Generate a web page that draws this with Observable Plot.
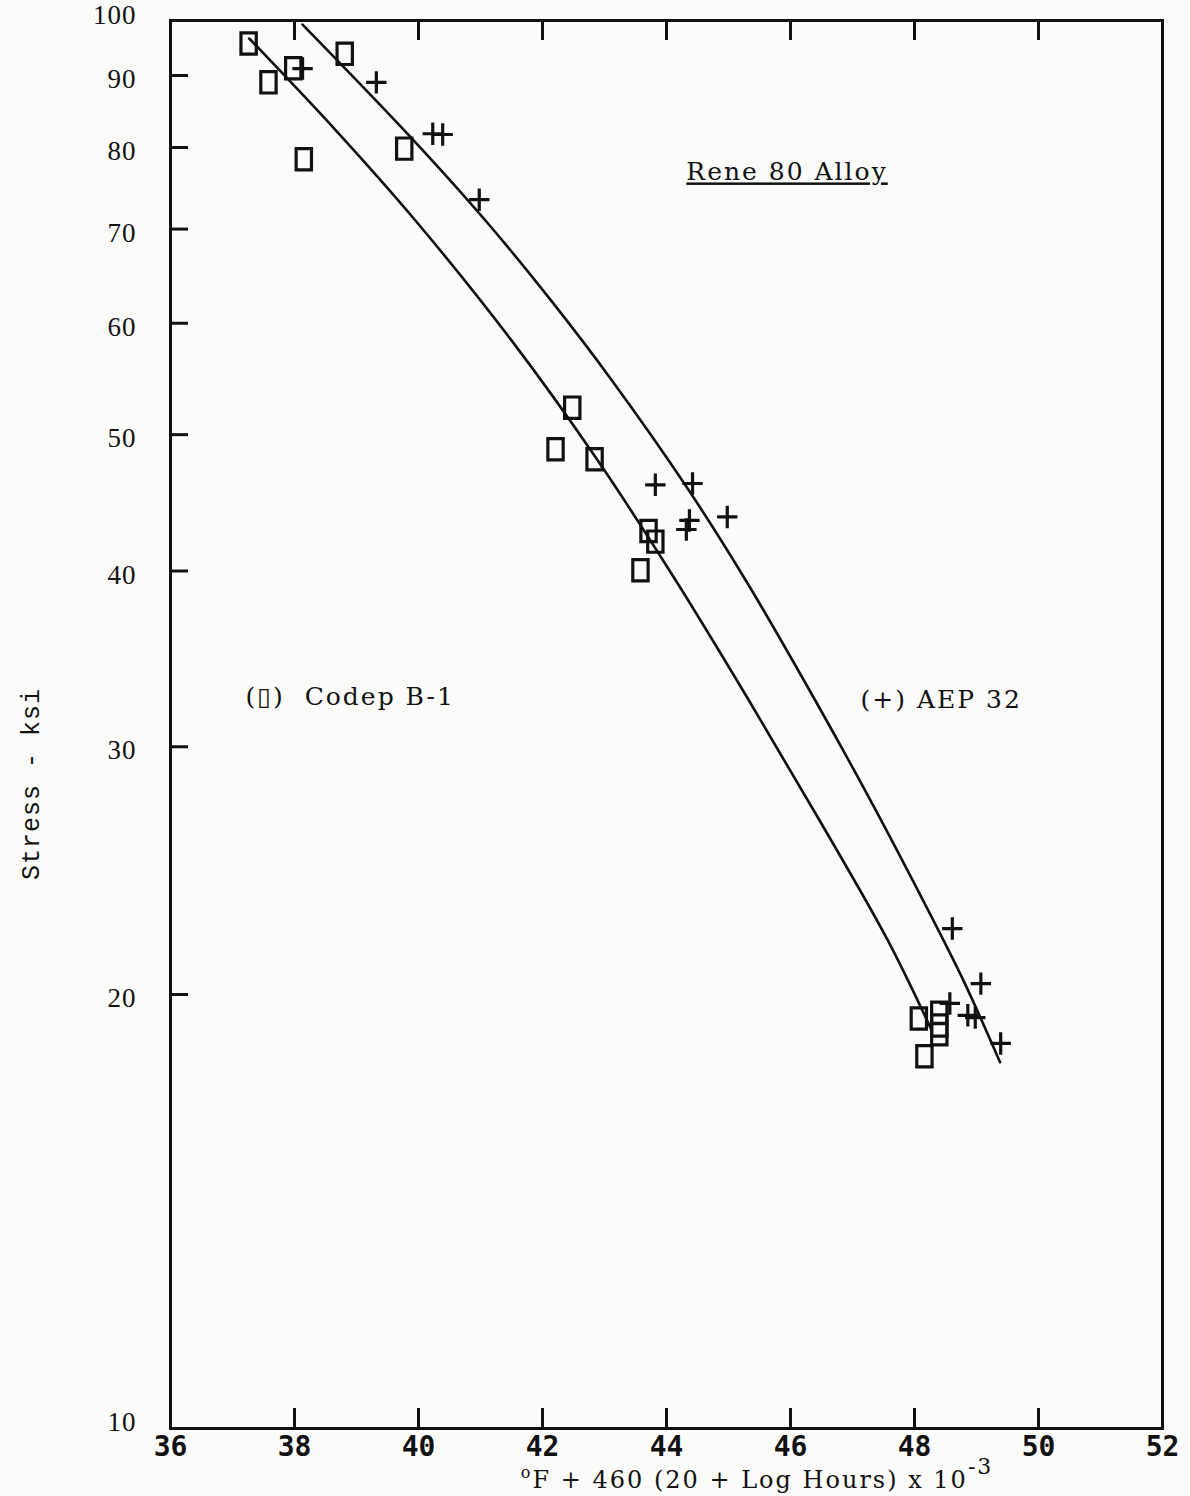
<!DOCTYPE html>
<html>
<head>
<meta charset="utf-8">
<script src="https://cdn.jsdelivr.net/npm/d3@7"></script>
<script src="https://cdn.jsdelivr.net/npm/@observablehq/plot@0.6"></script>
<style>
  html, body { margin: 0; padding: 0; background: #fbfbfa; }
  #chart svg { display: block; background: #fbfbfa; }
</style>
</head>
<body>
<div id="chart"></div>
<script>
// ---------- data ----------
const xTicks = [36, 38, 40, 42, 44, 46, 48, 50, 52];
const xInnerTicks = [38, 40, 42, 44, 46, 48, 50];
const yTicks = [10, 20, 30, 40, 50, 60, 70, 80, 90, 100];
const yInnerTicks = [20, 30, 40, 50, 60, 70, 80, 90];
// the printed log paper: frame runs from about 9.83 to 98.5 ksi
const yDomain = [9.83, 98.48];

// Codep B-1 (squares)
const codepX = [37.26, 37.58, 37.98, 38.15, 38.81, 39.77, 42.48, 42.21, 42.84, 43.71, 43.82, 43.58, 48.07, 48.16, 48.40, 48.40, 48.40];
const codepY = [94.83, 89.0, 91.08, 78.47, 93.25, 79.85, 52.26, 48.82, 48.03, 42.71, 41.97, 40.05, 19.23, 18.08, 19.41, 19.01, 18.74];

// AEP 32 (plus signs)
const aepX = [38.13, 39.32, 40.23, 40.39, 40.98, 43.82, 44.42, 44.37, 44.32, 44.98, 48.61, 49.07, 48.57, 48.86, 48.98, 49.39];
const aepY = [91.03, 89.0, 81.82, 81.72, 73.45, 46.06, 46.16, 43.45, 42.81, 43.70, 22.28, 20.36, 19.71, 19.33, 19.26, 18.46];

// fitted curves
const codepCurveX = [37.27, 38.67, 39.95, 41.50, 42.87, 44.15, 45.33, 46.47, 47.57, 48.28];
const codepCurveY = [95.62, 82.24, 70.99, 58.34, 48.08, 39.38, 32.36, 26.59, 21.85, 18.85];
const aepCurveX = [38.13, 39.88, 41.08, 42.14, 43.12, 44.33, 45.28, 46.40, 47.29, 48.14, 48.79, 49.38];
const aepCurveY = [97.83, 81.31, 70.99, 62.26, 54.64, 45.86, 39.38, 32.36, 27.48, 23.32, 20.46, 17.9];

// text annotations
const titleText = ["Rene 80 Alloy"];
const titleX = [44.32], titleY = [76.8];
const codepLabel = ["(\u25AF)  Codep B-1"];
const codepLabelX = [37.21], codepLabelY = [32.52];
const aepLabel = ["(+) AEP 32"];
const aepLabelX = [47.13], aepLabelY = [32.37];
const yLabel = ["Stress - ksi"];
const yLabelY = [28.23];
const xLabel = ["oF + 460 (20 + Log Hours) x 10-3"];
const xLabelX = [41.65];

// ---------- symbols ----------
const rectSymbol = {
  draw(ctx, size) {
    const s = Math.sqrt(size);
    const w = s * 0.72, h = s * 1.0;
    ctx.rect(-w / 2, -h / 2, w, h);
  }
};
const plusSymbol = {
  draw(ctx, size) {
    const s = Math.sqrt(size) * 0.5;
    ctx.moveTo(-s, 0); ctx.lineTo(s, 0);
    ctx.moveTo(0, -s * 1.1); ctx.lineTo(0, s * 1.1);
  }
};

const codepPts = codepX.map((x, i) => ({x, y: codepY[i]}));
const aepPts = aepX.map((x, i) => ({x, y: aepY[i]}));
const codepCurve = codepCurveX.map((x, i) => ({x, y: codepCurveY[i]}));
const aepCurve = aepCurveX.map((x, i) => ({x, y: aepCurveY[i]}));

const W = 1190, H = 1496;
const mL = 170, mR = 28, mT = 20, mB = 68;
const innerW = W - mL - mR, innerH = H - mT - mB;
const ink = "#111";
const serif = "DejaVu Serif";

const chart = Plot.plot({
  width: W,
  height: H,
  marginLeft: mL,
  marginRight: mR,
  marginTop: mT,
  marginBottom: mB,
  style: {background: "#fbfbfa", color: ink},
  x: {domain: [36, 52]},
  y: {type: "log", domain: yDomain},
  marks: [
    Plot.frame({stroke: ink, strokeWidth: 3}),
    // inward ticks
    Plot.tickX(xInnerTicks, {x: d => d, insetTop: innerH - 20, stroke: ink, strokeWidth: 3}),
    Plot.tickX(xInnerTicks, {x: d => d, insetBottom: innerH - 20, stroke: ink, strokeWidth: 3}),
    Plot.tickY(yInnerTicks, {y: d => d, insetRight: innerW - 18, stroke: ink, strokeWidth: 3}),
    Plot.axisX({ticks: xTicks, tickSize: 0, tickPadding: 8, tickFormat: d => String(d),
      fontSize: 28, fontFamily: "DejaVu Sans Mono", fontWeight: "bold", fill: ink, label: null}),
    Plot.axisY({ticks: yTicks, tickSize: 0, tickPadding: 34, dy: 4, tickFormat: d => String(d),
      fontSize: 27, fontFamily: "Liberation Serif", fill: ink, label: null}),
    // curves
    Plot.line(codepCurve, {x: "x", y: "y", curve: "catmull-rom", stroke: ink, strokeWidth: 2.6}),
    Plot.line(aepCurve, {x: "x", y: "y", curve: "catmull-rom", stroke: ink, strokeWidth: 2.6}),
    // points
    Plot.dot(codepPts, {x: "x", y: "y", symbol: rectSymbol, r: 12, stroke: ink, strokeWidth: 3.2, fill: "none"}),
    Plot.dot(aepPts, {x: "x", y: "y", symbol: plusSymbol, r: 11.5, stroke: ink, strokeWidth: 3.2, fill: "none"}),
    // annotations
    Plot.text(titleText, {x: titleX, y: titleY, text: d => d, textAnchor: "start",
      fontSize: 25, fontFamily: serif, fill: ink}),
    Plot.text(codepLabel, {x: codepLabelX, y: codepLabelY, text: d => d, textAnchor: "start",
      fontSize: 25, fontFamily: serif, fill: ink}),
    Plot.text(aepLabel, {x: aepLabelX, y: aepLabelY, text: d => d, textAnchor: "start",
      fontSize: 25, fontFamily: serif, fill: ink}),
    Plot.text(yLabel, {y: yLabelY, frameAnchor: "left", dx: -140, rotate: -90, text: d => d,
      textAnchor: "middle", fontSize: 25, fontFamily: "Liberation Mono", fill: ink}),
    Plot.text(xLabel, {x: xLabelX, frameAnchor: "bottom", dy: 56, text: d => d, textAnchor: "start",
      fontSize: 24, fontFamily: serif, fill: ink})
  ]
});

const svg = d3.select(chart);
// typewriter spacing
svg.selectAll("text").filter(function() {
  const t = this.textContent;
  return t === titleText[0] || t === codepLabel[0] || t === aepLabel[0];
}).style("letter-spacing", "2px").style("white-space", "pre");
svg.selectAll("text").filter(function() { return this.textContent === yLabel[0]; })
  .style("letter-spacing", "1px");
svg.selectAll("g[aria-label='y-axis tick label'] text").style("letter-spacing", "1px");
svg.selectAll("text").filter(function() { return this.textContent === titleText[0]; })
  .style("text-decoration", "underline");
svg.selectAll("text").filter(function() { return this.textContent === xLabel[0]; })
  .style("letter-spacing", "2px")
  .each(function() {
    const t = d3.select(this);
    t.text(null);
    t.append("tspan").attr("font-size", 16).attr("dy", "-0.38em").text("o");
    t.append("tspan").attr("dy", "0.38em").text("F + 460 (20 + Log Hours) x 10");
    t.append("tspan").attr("font-size", 22).attr("dy", "-0.6em").text("-3");
  });

document.getElementById("chart").appendChild(chart);
</script>
</body>
</html>
